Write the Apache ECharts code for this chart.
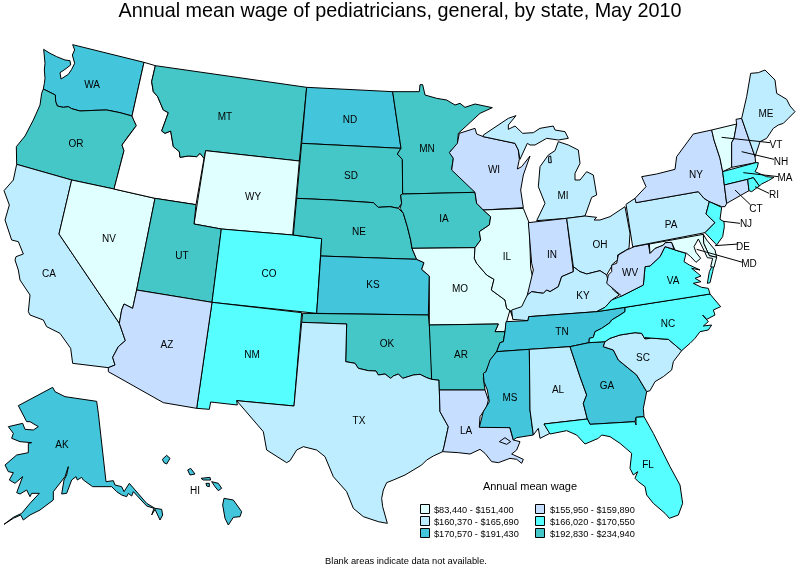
<!DOCTYPE html>
<html><head><meta charset="utf-8">
<style>html,body{margin:0;padding:0;background:#fff}#c{width:800px;height:569px}</style>
<script src="https://cdn.jsdelivr.net/npm/echarts@6/dist/echarts.min.js"></script>
</head><body><div id="c"></div>
<script>
// ---- chart values (estimated: only the class of each state can be read) ----
const stateNames = ['WA','OR','CA','NV','MT','WY','UT','CO','AZ','NM','ND','SD','NE','KS','OK','TX','MN','IA','MO','AR','LA','WI','IL','MI','IN','OH','KY','TN','MS','AL','GA','FL','SC','NC','VA','WV','PA','NY','VT','NH','ME','MA','CT','RI','NJ','DE','MD','AK','HI'];
const stateValues = [178000,205000,163000,140000,210000,130000,200000,168000,158000,169000,180000,215000,198000,175000,220000,162000,225000,202000,148000,230000,157000,156500,145000,164000,158500,161000,165000,182000,185000,163500,176000,167500,162500,168500,167000,159000,161500,157500,125000,159500,165000,170000,156000,169500,166500,151000,150000,188000,172000];
const legendTitle = 'Annual mean wage';
const legendLabels = ['$83,440 - $151,400','$160,370 - $165,690','$170,570 - $191,430','$155,950 - $159,890','$166,020 - $170,550','$192,830 - $234,940'];
const legendMins = [83440,160370,170570,155950,166020,192830];
const legendMaxs = [151400,165690,191430,159890,170550,234940];
const legendColors = ['#E0FFFF','#BDEDFF','#43C6DB','#C6DEFF','#57FEFF','#46C7C7'];
const titleText = 'Annual mean wage of pediatricians, general, by state, May 2010';
const noteText = 'Blank areas indicate data not available.';

// ---- base map outline ----
function crop(ox,oy){return function(){const r=[];for(let i=0;i<arguments.length;i+=2)r.push([ox+arguments[i]/3,-(oy+arguments[i+1]/3)]);return r;};}
const A=crop(0,30),B=crop(0,270),C=crop(290,80),D=crop(290,300),E=crop(440,100),F=crop(620,60),G=crop(600,200),H=crop(470,340),I=crop(570,300),J=crop(670,225);
const outlines = {
 WA:[[...A(218,44,432,97,396,258,360,248,320,240,285,241,240,243,215,236,205,230,190,232,172,228,167,215,166,195,150,187,130,177,127,175,133,160,135,145,133,120,135,100,131,58,150,70,170,80,195,90,210,92,212,105,195,118,180,128,183,147,205,133,215,118,224,100,217,75,224,60)]],
 OR:[[...A(130,177,150,187,166,195,167,215,172,228,190,232,205,230,215,236,240,243,285,241,320,240,360,248,396,258,402,272,409,287,385,318,366,345,372,362,342,477,215,450,50,403,49,350,75,318,100,270,120,225,125,190)]],
 CA:[[...A(50,403,215,450,177,612),...B(250,0,358,160,376,212,355,230,338,262,345,285,325,293,218,280,212,235,180,190,140,170,130,150,90,135,85,125,90,75,60,30,55,0),...A(45,690,48,680,70,672,55,635,35,630,15,570,28,525,12,482,40,450)]],
 NV:[[...A(215,450,342,477,465,505),...B(410,60,398,115,372,102,365,120,358,160,250,0),...A(177,612)]],
 ID:[[...A(432,97,466,107,455,155,460,185,473,200,490,240,505,248,485,303,495,310,512,303,520,350,538,365,540,382,565,378,590,380,600,370,612,385,588,524,465,505,342,477,372,362,366,345,409,287,402,272,396,258)]],
 MT:[[...A(466,107,920,172,898,393,617,362,612,385,600,370,590,380,565,378,540,382,538,365,520,350,512,303,495,310,485,303,505,248,490,240,473,200,460,185,455,155)]],
 WY:[[...A(617,362,898,393,878,615,664,597,582,582)]],
 UT:[[...A(465,505,588,524,582,582,664,597),...B(636,97,410,60)]],
 CO:[[...A(664,597,878,615),...C(95,476,80,700),...B(636,97)]],
 NM:[[...B(636,97,905,128,882,408,710,392,712,405,632,396,628,418,590,415)]],
 AZ:[[...B(410,60,636,97,590,415,490,398,325,305,325,293,345,285,338,262,355,230,376,212,358,160,365,120,372,102,398,115)]],
 ND:[[...C(50,22,308,35,333,205,35,190)]],
 SD:[[...C(35,190,333,205,322,222,337,238,338,342,332,345,335,370,325,385,300,380,265,382,250,368,130,360,20,355)]],
 NE:[[...C(20,355,130,360,250,368,265,382,300,380,325,385,340,400,352,440,362,480,366,505,380,538,92,528,95,476,10,465)]],
 KS:[[...C(92,528,380,538,402,548,395,568,418,588,415,705,80,700)]],
 OK:[[...D(38,40,415,45,418,75,425,165,425,238,410,233,390,223,370,225,338,235,325,222,310,228,302,235,285,222,265,225,258,213,235,212,205,205,195,190,167,185,170,72,35,67)]],
 TX:[[...D(35,67,170,72,167,185,195,190,205,205,235,212,258,213,265,225,285,222,302,235,310,228,325,222,338,235,370,225,390,223,410,233,425,238,447,240,450,335,475,380,462,440,458,455,430,468,410,480,395,495,345,525,310,540,290,548,280,570,275,595,278,620,292,670,265,665,220,650,190,625,170,575,130,530,105,470,80,450,40,440,20,450,0,482),...B(860,578,800,540,790,485,710,392,882,408)]],
 MN:[[...C(308,35,388,35,390,14,398,14,405,45,440,55,470,60,495,75,510,70,525,82,555,72,607,83,570,100,505,160,502,195,480,215,490,235,485,268,545,310,555,337,338,342,337,238,322,222,333,205)]],
 IA:[[...C(332,345,338,342,555,337,560,370,580,390,602,410,598,435,568,455,572,480,555,503,366,505,362,480,352,440,340,400,330,385,335,370)]],
 MO:[[...C(366,505,555,503,553,535,560,550,590,585,612,598,604,630,645,660,650,685,665,695,668,712),...D(660,30,650,65,645,95,615,95,625,72,418,75),...C(418,588,395,568,402,548,380,538)]],
 AR:[[...D(418,75,625,72,615,95,645,95,640,125,630,128,620,155,605,175,590,210,580,235,585,270,448,270,447,240,425,238)]],
 LA:[[...D(448,270,585,270,595,300,590,320,570,350,568,380,658,378,670,420,690,425,680,450,665,462,700,478,695,490,680,478,660,475,625,488,605,485,585,460,570,448,540,462,505,458,458,455,462,440,475,380,450,335)],D(628,425,645,413,662,425,650,433)],
 WI:[[...E(58,100,105,85,110,102,130,110,225,130,235,150,238,178,232,207,245,200,270,168,250,225,242,270,250,323,130,330,110,310,105,277,35,210,40,175,28,158,52,130)]],
 IL:[[...C(555,503,572,480,568,455,598,435,602,410,580,390,700,385,718,430,722,565,730,600,712,645,715,665,690,690,665,695,650,685,645,660,604,630,612,598,590,585,560,550,553,535)]],
 MI:[[...E(130,105,205,55,228,47,205,75,205,88,225,78,248,100,280,98,300,85,340,78,345,90,375,95,385,115,355,120,320,115,285,135,270,135,262,130,240,178,235,150,225,130,130,110)],[...E(355,125,385,135,415,150,420,190,405,220,405,240,420,240,440,215,460,225,470,285,455,292,435,348,380,355,290,362,315,310,295,260,300,200,325,165,345,152)],[...E(326,170,332,168,334,188,326,188)]],
 IN:[[...E(265,368,380,355,400,515,365,530,355,560,330,575,320,570,310,580,275,575,262,585,280,510,275,490)]],
 OH:[[...E(380,355,435,348,470,352,462,360,480,360,510,350,555,320,570,400,567,445,533,465,533,480,520,490,500,525,480,512,440,522,420,515,400,500)]],
 KY:[[...E(262,585,275,575,310,580,320,570,330,575,355,560,365,530,400,515,400,500,420,515,440,522,480,512,500,525,505,545,520,570,538,585),...G(35,300),...I(105,22,80,35),...D(716,50,714,62),...E(218,658,215,630,245,620)]],
 TN:[[...D(648,65,714,62,716,50),...I(80,35,165,22,165,35,150,45,125,60,120,68,95,85,75,95,70,112,58,115,57,128),...H(300,20,178,28,80,35),...D(630,128,640,125,645,95)]],
 MS:[[...H(80,35,178,28,180,210,190,285,140,293,130,300,120,263,28,262,40,215,58,185,52,150,42,125,40,100,48,95,60,60)]],
 AL:[[...H(178,28,300,20,330,110,350,165,340,190,352,237,222,252,240,280,210,295,205,265,190,285,180,210)]],
 GA:[[...H(300,20),...I(57,128,105,125,100,140,130,150,145,180),...H(500,105,530,155,520,205,522,230,498,232,495,245,360,253,352,237,340,190,350,165,330,110)]],
 FL:[[...H(222,252,352,237,360,253,495,245,498,255,498,232,522,230,550,280,600,380,630,435,638,490,625,525,598,535,585,520,550,490,530,465,525,440,505,425,495,415,503,395,490,405,480,385,485,340,450,310,420,290,395,285,385,295,345,312,320,285,290,272,240,282)]],
 SC:[[...I(105,125,120,115,150,105,195,98,215,100,225,117,240,115),...G(135,413,205,418,245,452),...H(610,65,605,90,580,110,555,125,540,152,530,155,500,105),...I(145,180,130,150,100,140)]],
 NC:[[...I(165,22),...G(330,282,345,300,362,320,340,330,345,345,320,358,308,345,325,365,310,378,335,375,325,390,300,395,285,415,270,430,245,452,205,418,135,413),...I(225,117,215,100,195,98,150,105,120,115,105,125,57,128,58,115,70,112,75,95,95,85,120,68,125,60,150,45,165,35)]],
 VA:[[...I(80,35,165,22),...G(330,282,325,265,305,262,280,250,303,245,285,235,303,228,275,205,300,210,268,195,252,185,258,160,225,150,222,148,195,140,180,170,150,198,135,200,130,255,65,288,35,300),...I(105,22)],[...G(322,250,328,215,340,190,345,180,338,215,330,248)]],
 WV:[[...G(103,140,145,132,150,160,165,145,190,135,195,128,215,127,222,148,195,140,180,170,150,198,135,200,130,255,65,288,50,275,20,250,25,225,35,215,35,195,50,190,55,165,80,150)]],
 PA:[[...F(18,433,45,415,48,428,235,395,252,415,268,425,258,462,285,488,255,518,38,560)]],
 NY:[[...F(48,428,45,415,78,380,65,350,110,342,165,328,170,290,220,222,275,210,282,240,300,295,308,335,313,375,320,430,315,440,305,440,268,425,252,415,235,395)]],
 VT:[[...F(275,210,350,192,342,235,335,248,335,322,308,335,300,295,282,240)]],
 NH:[[...F(350,192,348,178,365,175,405,290,407,308,335,322,335,248,342,235)]],
 ME:[[...F(365,175,380,110,392,40,415,38,435,30,465,60,470,100,500,118,510,138,525,155,505,175,490,190,475,195,460,205,440,235,420,245,405,290)]],
 MA:[[...F(308,335,407,308,415,308,412,322,405,335,440,350,462,352,445,362,425,372,418,378,400,353,383,358,313,375)]],
 CT:[[...F(313,375,383,358,387,392,320,430)]],
 RI:[[...F(383,358,400,353,418,378,395,395,387,392)]],
 NJ:[[...F(268,425,305,442,300,478,312,485,313,500,308,530,290,555,255,518,285,488,258,462)]],
 DE:[[...J(100,28,110,45,135,75,140,97,118,92,101,55)]],
 MD:[[...G(148,132),...J(100,28,101,55,118,92,140,97,132,127,122,125,128,100,112,98,100,72,85,42,72,65,78,82,92,100,78,112,62,95,50,85),...G(258,160,225,150,215,127,195,128,190,135,165,145,150,160)]],
 AK:[[...B(55,407,158,352,165,365,195,380,290,394,295,430,318,635,340,632,345,645,365,650,372,665,388,640,440,700,465,715,485,718,488,735,480,750,465,718,455,735,462,715,440,708,400,665,395,678,385,670,380,680,365,675,350,665,335,650,278,650,250,630,245,622,232,630,228,620,215,630,200,670,185,672,192,630,200,615,205,590,195,620,160,665,160,690,120,720,90,735,70,750,62,735,40,745,12,763,40,742,65,730,90,700,118,670,95,670,90,680,80,660,60,672,50,668,68,620,45,640,28,630,40,608,25,605,15,585,50,555,85,548,85,520,95,518,60,515,35,505,40,490,25,470,68,460,75,478,100,480,115,470,90,455,80,455)]],
 HI:[[...B(487,568,500,556,510,565,500,582,492,578)],[...B(563,600,572,595,585,612,570,615)],[...B(603,625,630,622,632,630,610,630)],[...B(618,640,628,640,628,650,620,648)],[...B(635,635,655,640,665,655,655,662,645,650)],[...B(672,685,700,690,725,725,720,740,700,742,685,765,675,745,668,705)]]
};
const labelPos = {WA:[92,85],OR:[76,144],CA:[49,274],NV:[109,239],ID:[170,180],MT:[225,117],WY:[253,197],UT:[182,256],CO:[269,274],AZ:[167,345],NM:[252,355],ND:[350,120],SD:[351,176],NE:[359,232],KS:[373,285],OK:[387,344],TX:[359,421],MN:[427,149],IA:[444,219],MO:[460,289],AR:[461,355],LA:[466,431],WI:[494,170],IL:[507,257],MI:[563,196],IN:[552,255],OH:[600,245],KY:[583,296],TN:[562,332],MS:[510,398],AL:[558,390],GA:[607,386],FL:[648,465],SC:[643,358],NC:[668,324],VA:[673,281],WV:[630,273],PA:[671,225],NY:[696,175],ME:[766,114],AK:[62,445],HI:[195,491],VT:[776,145],NH:[781,162],MA:[785,178],RI:[774,195],CT:[756,209],NJ:[746,224],DE:[743,247],MD:[749,264]};
const leaders = [F(305,232,450,248),F(365,275,462,298),F(370,338,475,350),F(405,380,447,400),F(345,390,392,435),F(310,484,360,490),G(345,137,415,132),G(290,148,428,187)];

const geoJson = {type:'FeatureCollection',features:Object.keys(outlines).map(n=>{
  const rings=outlines[n];
  const geometry = n==='LA' ? {type:'Polygon',coordinates:rings} : {type:'MultiPolygon',coordinates:rings.map(r=>[r])};
  return {type:'Feature',properties:{name:n,cp:[labelPos[n][0],-labelPos[n][1]]},geometry};
})};
echarts.registerMap('us',geoJson);

const legendGraphics=[{type:'text',x:530,y:487,style:{text:legendTitle,font:'11px "Liberation Sans"',fill:'#000',align:'center',verticalAlign:'middle'}}];
legendLabels.forEach((t,i)=>{
  const col=i<3?0:1,row=i%3;
  legendGraphics.push({type:'rect',shape:{x:(col?536:421)-.5,y:505+row*12-.5,width:9,height:9},style:{fill:legendColors[i],stroke:'#000',lineWidth:1}});
  legendGraphics.push({type:'text',x:col?550:434,y:510.5+row*12,style:{text:t,font:'9.2px "Liberation Sans"',fill:'#000',verticalAlign:'middle'}});
});
legendGraphics.push({type:'text',x:406,y:561,style:{text:noteText,font:'9.3px "Liberation Sans"',fill:'#000',align:'center',verticalAlign:'middle'}});

const chart=echarts.init(document.getElementById('c'),null,{renderer:'canvas'});
chart.setOption({
  animation:false,backgroundColor:'#fff',
  title:{text:titleText,left:'center',top:-3,textStyle:{fontFamily:'Liberation Sans',fontSize:19.8,fontWeight:'normal',color:'#000'}},
  tooltip:{show:false},
  visualMap:{show:false,type:'piecewise',seriesIndex:0,pieces:legendMins.map((m,i)=>({min:m,max:legendMaxs[i],color:legendColors[i]}))},
  geo:{map:'us',roam:false,aspectScale:1,left:0,top:0,width:800,height:569,boundingCoords:[[0,0],[800,-569]],silent:true,
    itemStyle:{areaColor:'#fff',borderColor:'#000',borderWidth:1},
    label:{show:true,color:'#000',fontFamily:'Liberation Sans',fontSize:10},
    emphasis:{disabled:true},
    regions:[{name:'ID',label:{show:false}}]},
  series:[
    {type:'map',geoIndex:0,data:stateNames.map((n,i)=>({name:n,value:stateValues[i]}))},
    {type:'lines',coordinateSystem:'geo',polyline:true,silent:true,lineStyle:{color:'#000',width:1,opacity:1},data:leaders.map(c=>({coords:c}))}
  ],
  graphic:legendGraphics
});
</script></body></html>
